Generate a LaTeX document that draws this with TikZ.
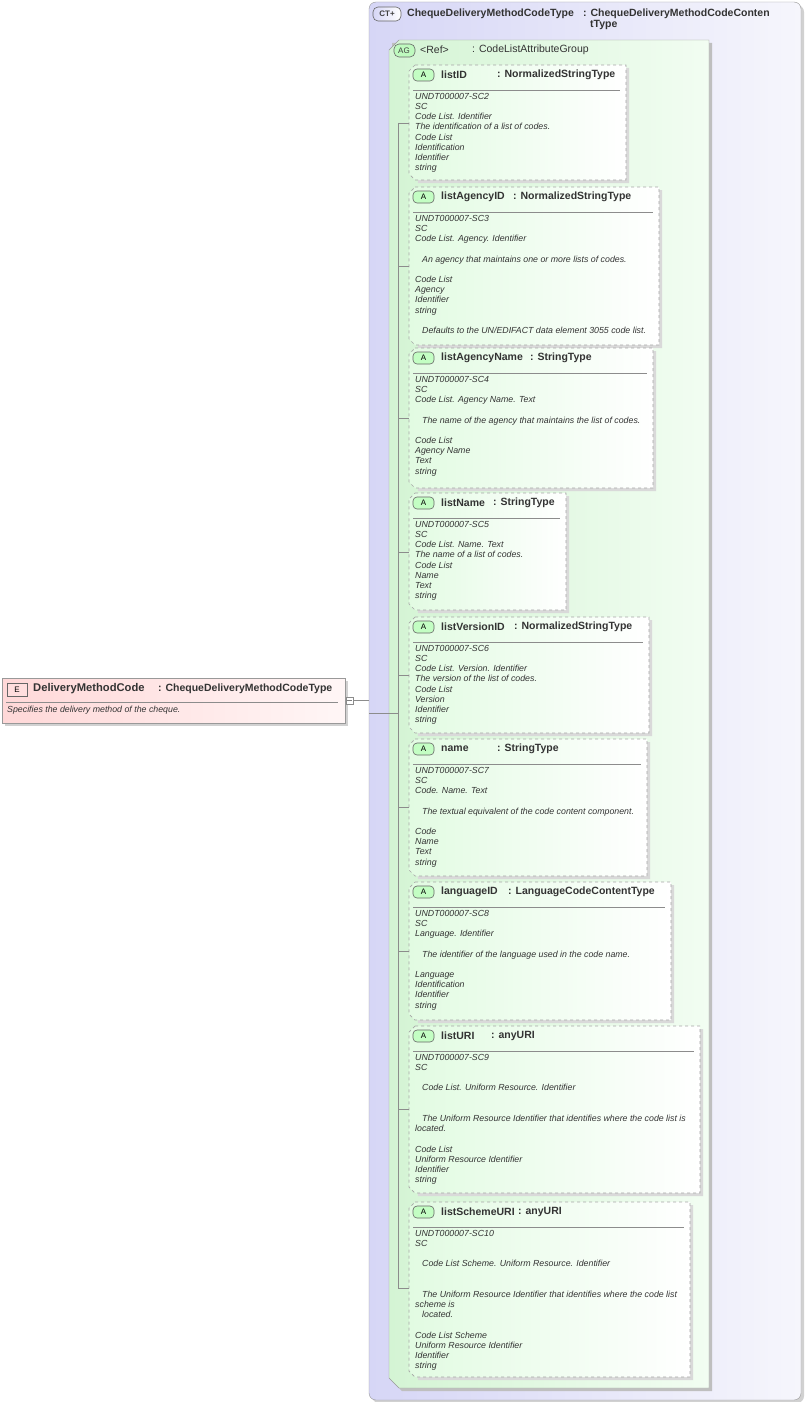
\documentclass[tikz,border=0pt]{standalone}
\usepackage{fontspec}
\setmainfont{Liberation Sans}
\begin{document}
\begin{tikzpicture}[x=1pt,y=-1pt,
  ttl/.style={font=\bfseries\fontsize{10.5}{12}\selectfont,text=black!80,inner sep=0pt,anchor=west},
  body/.style={font=\itshape\fontsize{8.8}{10.2}\selectfont,text=black!80,inner sep=0pt,anchor=north west,align=left},
  conn/.style={draw=black!45,line width=0.6pt},
  badge/.style={draw=black!60,line width=0.6pt,rounded corners=0pt}]
\useasboundingbox (0,0) rectangle (804,1402);
\definecolor{ctl}{HTML}{D6D6F6}\definecolor{ctr}{HTML}{F6F6FC}
\definecolor{agl}{HTML}{D4F4D4}\definecolor{agr}{HTML}{F2FDF2}
\definecolor{atl}{HTML}{E2FBE2}\definecolor{el}{HTML}{FFD8D8}\definecolor{er}{HTML}{FFF6F6}
% CT box
\fill[black!18,rounded corners=7] (372,5) rectangle (804,1403);
\path[draw=black!40,rounded corners=7,left color=ctl,right color=ctr] (369,2) rectangle (801,1400);
\path[badge,left color=ctl,right color=white,rounded corners=5] (373,7) rectangle (401,21);
\node[font=\bfseries\fontsize{8}{9}\selectfont,text=black!75] (ctb) at (387,14) {CT+};
\node[ttl] (ctn) at (407,14) {ChequeDeliveryMethodCodeType};
\node[ttl] (ctt) at (583,14) {: ChequeDeliveryMethodCodeConten};
\node[ttl] (ctt2) at (590,25) {tType};
% AG box
\fill[black!25] (392,43) -- (712,43) -- (712,1391) -- (402,1391) -- (392,1381) -- cycle;
\path[draw=black!40,left color=agl,right color=agr] (399,40) -- (709,40) -- (709,1388) -- (399,1388) -- (389,1378) -- (389,50) -- cycle;
\path[badge,fill=agl!70!green!60,rounded corners=5] (394,44) rectangle (415,57);
\node[font=\fontsize{8}{9}\selectfont,text=black!75] (agb) at (404,50.5) {AG};
\node[ttl,font=\fontsize{10.5}{12}\selectfont] (agn) at (420,50) {<Ref>};
\node[ttl,font=\fontsize{10.5}{12}\selectfont] (agt) at (472,50) {: CodeListAttributeGroup};
% element
\fill[black!18] (5,681) rectangle (348,726);
\path[draw=black!40,left color=el,right color=er] (2,678) rectangle (345,723);
\path[badge,fill=el!80!red!40] (7,683) rectangle (27,696);
\node[font=\fontsize{8}{9}\selectfont] (eb) at (17,689.5) {E};
\node[ttl,font=\bfseries\fontsize{11.2}{13}\selectfont] (en) at (33,689) {DeliveryMethodCode};
\node[ttl] (et) at (158,689) {: ChequeDeliveryMethodCodeType};
\draw[black!45] (6,702) -- (338,702);
\node[body] (ed) at (7,706) {Specifies the delivery method of the cheque.};
% connector
\node[draw=black!45,fill=white,minimum width=7pt,minimum height=7pt,inner sep=0pt] (mn) at (349.5,700.5) {};
\draw[black!50,line width=0.5pt] (347,700.5) -- (352,700.5);
\coordinate (c1) at (369,700.5);
\draw[conn] (mn) -- (c1);
\coordinate (s1) at (369,713); \coordinate (s2) at (398,713);
\draw[conn] (s1) -- (s2);
\coordinate (vt) at (398,123); \coordinate (vb) at (398,1288);
\draw[conn] (vt) -- (vb);
% attribute boxes
\newcommand{\attr}[8]{%
  \fill[black!15] (415,#3+3) -- (#2+3,#3+3) -- (#2+3,#4+3) -- (418,#4+3) -- cycle;
  \path[draw=black!35,dashed,line width=0.7pt,left color=atl,right color=white]
    (415,#3) -- (#2,#3) -- (#2,#4) -- (415,#4) -- (409,#4-6) -- (409,#3+6) -- cycle;
  \path[badge,fill=atl!60!green!50,rounded corners=4] (413,#3+4) rectangle (434,#3+16);
  \node[font=\fontsize{8}{9}\selectfont] (#1b) at (423.5,#3+10) {A};
  \node[ttl] (#1n) at (441,#3+10) {#5};
  \node[ttl] (#1t) at (#6,#3+10) {: #7};
  \draw[black!45] (413,#3+25) -- (#2-6,#3+25);
  \node[body] (#1d) at (415,#3+28) {#8};
  \coordinate (#1c) at (409,{(#3+#4)/2});
}
\def\ind{\hspace*{7pt}}
\attr{a1}{626}{65}{180}{listID}{497}{NormalizedStringType}{UNDT000007-SC2\\SC\\Code List. Identifier\\The identification of a list of codes.\\Code List\\Identification\\Identifier\\string}
\attr{a2}{659}{187}{345}{listAgencyID}{513}{NormalizedStringType}{UNDT000007-SC3\\SC\\Code List. Agency. Identifier\\~\\\ind An agency that maintains one or more lists of codes.\\~\\Code List\\Agency\\Identifier\\string\\~\\\ind Defaults to the UN/EDIFACT data element 3055 code list.}
\attr{a3}{653}{348}{488}{listAgencyName}{530}{StringType}{UNDT000007-SC4\\SC\\Code List. Agency Name. Text\\~\\\ind The name of the agency that maintains the list of codes.\\~\\Code List\\Agency Name\\Text\\string}
\attr{a4}{566}{493}{610}{listName}{493}{StringType}{UNDT000007-SC5\\SC\\Code List. Name. Text\\The name of a list of codes.\\Code List\\Name\\Text\\string}
\attr{a5}{649}{617}{733}{listVersionID}{514}{NormalizedStringType}{UNDT000007-SC6\\SC\\Code List. Version. Identifier\\The version of the list of codes.\\Code List\\Version\\Identifier\\string}
\attr{a6}{647}{739}{876}{name}{497}{StringType}{UNDT000007-SC7\\SC\\Code. Name. Text\\~\\\ind The textual equivalent of the code content component.\\~\\Code\\Name\\Text\\string}
\attr{a7}{671}{882}{1020}{languageID}{508}{LanguageCodeContentType}{UNDT000007-SC8\\SC\\Language. Identifier\\~\\\ind The identifier of the language used in the code name.\\~\\Language\\Identification\\Identifier\\string}
\attr{a8}{700}{1026}{1193}{listURI}{491}{anyURI}{UNDT000007-SC9\\SC\\~\\\ind Code List. Uniform Resource. Identifier\\~\\~\\\ind The Uniform Resource Identifier that identifies where the code list is\\located.\\~\\Code List\\Uniform Resource Identifier\\Identifier\\string}
\attr{a9}{690}{1202}{1377}{listSchemeURI}{518}{anyURI}{UNDT000007-SC10\\SC\\~\\\ind Code List Scheme. Uniform Resource. Identifier\\~\\~\\\ind The Uniform Resource Identifier that identifies where the code list\\scheme is\\\ind located.\\~\\Code List Scheme\\Uniform Resource Identifier\\Identifier\\string}
\foreach \i/\y in {a1/123,a2/266,a3/418,a4/552,a5/675,a6/807,a7/951,a8/1109,a9/1288}{
  \coordinate (\i t) at (398,\y);
  \draw[conn] (\i t) -- (\i c |- \i t);
}
\end{tikzpicture}
\end{document}
